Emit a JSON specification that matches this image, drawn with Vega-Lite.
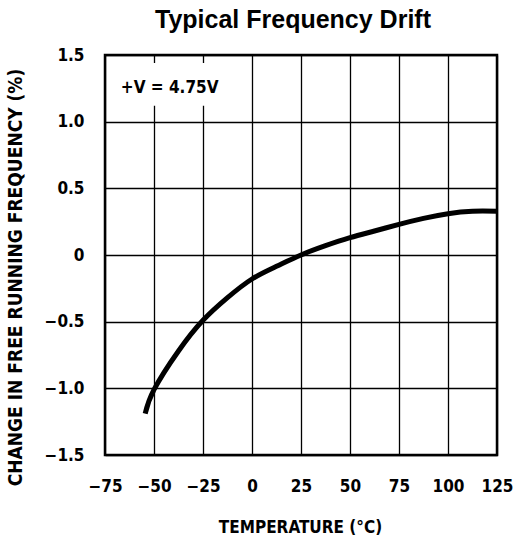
{
  "$schema": "https://vega.github.io/schema/vega-lite/v6.json",
  "width": 392,
  "height": 400,
  "autosize": "none",
  "padding": {"left": 105, "top": 55, "right": 19, "bottom": 87},
  "background": "white",
  "config": {
    "view": {"stroke": "black", "strokeWidth": 2.5},
    "font": "DejaVu Sans Condensed"
  },
  "title": {
    "text": "Typical Frequency Drift",
    "font": "Liberation Sans",
    "fontSize": 25,
    "fontWeight": "bold",
    "color": "black",
    "anchor": "middle",
    "offset": 13,
    "dx": -8
  },
  "datasets": {
    "curve": [
      {"temp": -54.5, "drift": -1.19},
      {"temp": -50, "drift": -1.01},
      {"temp": -37.5, "drift": -0.72},
      {"temp": -25, "drift": -0.49},
      {"temp": -12.5, "drift": -0.32},
      {"temp": 0, "drift": -0.18},
      {"temp": 12.5, "drift": -0.085},
      {"temp": 25, "drift": 0.0},
      {"temp": 37.5, "drift": 0.07},
      {"temp": 50, "drift": 0.13},
      {"temp": 62.5, "drift": 0.18},
      {"temp": 75, "drift": 0.23},
      {"temp": 87.5, "drift": 0.275},
      {"temp": 100, "drift": 0.31},
      {"temp": 112.5, "drift": 0.328},
      {"temp": 125, "drift": 0.328}
    ],
    "box": [{"x1": -70, "x2": -8, "y1": 1.12, "y2": 1.44}],
    "note": [{"x": -42, "y": 1.25, "label": "+V = 4.75V"}]
  },
  "layer": [
    {
      "data": {"name": "curve"},
      "mark": {"type": "line", "color": "black", "strokeWidth": 5, "interpolate": "natural", "strokeCap": "butt"},
      "encoding": {
        "x": {
          "field": "temp", "type": "quantitative",
          "scale": {"domain": [-75, 125], "nice": false, "zero": false},
          "axis": {
            "values": [-75, -50, -25, 0, 25, 50, 75, 100, 125],
            "grid": true, "gridColor": "black", "gridOpacity": 1, "gridWidth": 1.3,
            "domain": false, "ticks": false,
            "labelFont": "DejaVu Sans Condensed", "labelFontWeight": "bold", "labelFontSize": 17, "labelColor": "black",
            "labelPadding": 23, "labelFlush": false,
            "title": "TEMPERATURE (°C)",
            "titleFont": "DejaVu Sans Condensed", "titleFontWeight": "bold", "titleFontSize": 17, "titleColor": "black",
            "titleX": 195, "titleY": 72, "titleBaseline": "middle", "titleAlign": "center"
          }
        },
        "y": {
          "field": "drift", "type": "quantitative",
          "scale": {"domain": [-1.5, 1.5], "nice": false, "zero": false},
          "axis": {
            "values": [-1.5, -1, -0.5, 0, 0.5, 1, 1.5],
            "labelExpr": "datum.value == 0 ? '0' : format(datum.value, '.1f')",
            "grid": true, "gridColor": "black", "gridOpacity": 1, "gridWidth": 1.3,
            "domain": false, "ticks": false,
            "labelFont": "DejaVu Sans Condensed", "labelFontWeight": "bold", "labelFontSize": 17, "labelColor": "black",
            "labelPadding": 21, "labelFlush": false,
            "title": "CHANGE IN FREE RUNNING FREQUENCY (%)",
            "titleFont": "DejaVu Sans Condensed", "titleFontWeight": "bold", "titleFontSize": 19, "titleColor": "black",
            "titleX": -90, "titleY": 222, "titleAngle": -90, "titleBaseline": "middle", "titleAlign": "center"
          }
        }
      }
    },
    {
      "data": {"name": "box"},
      "mark": {"type": "rect", "color": "white"},
      "encoding": {
        "x": {"field": "x1", "type": "quantitative"},
        "x2": {"field": "x2"},
        "y": {"field": "y1", "type": "quantitative"},
        "y2": {"field": "y2"}
      }
    },
    {
      "data": {"name": "note"},
      "mark": {"type": "text", "font": "DejaVu Sans Condensed", "fontWeight": "bold", "fontSize": 17, "color": "black", "align": "center", "baseline": "middle"},
      "encoding": {
        "x": {"field": "x", "type": "quantitative"},
        "y": {"field": "y", "type": "quantitative"},
        "text": {"field": "label"}
      }
    }
  ]
}
